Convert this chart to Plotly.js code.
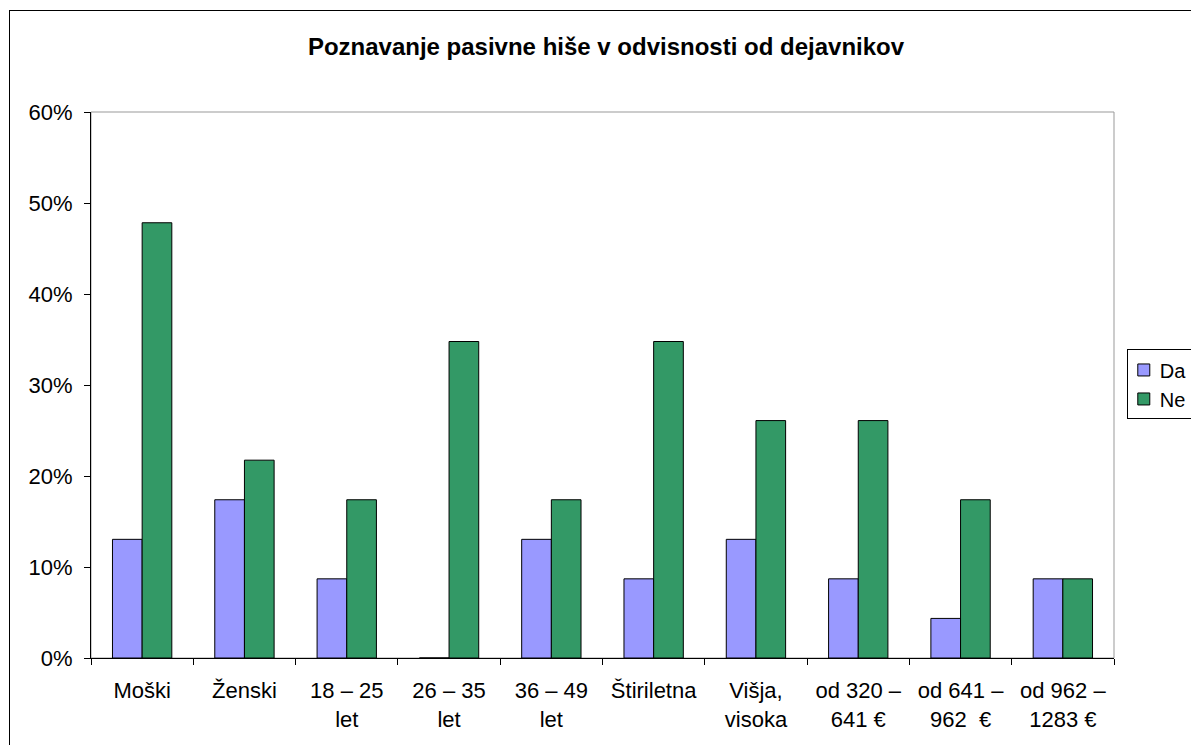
<!DOCTYPE html>
<html>
<head>
<meta charset="utf-8">
<script src="https://cdn.plot.ly/plotly-3.0.1.min.js"></script>
<style>
html,body{margin:0;padding:0;overflow:hidden;background:#fff;}
#chart{width:1191px;height:745px;position:absolute;left:0;top:0;}
#frame{position:absolute;left:9px;top:10px;width:1300px;height:900px;border:1px solid #000;pointer-events:none;}
</style>
</head>
<body>
<div id="chart"></div>
<div id="frame"></div>
<script>
const categories = ["Moški", "Ženski", "18 – 25<br>let", "26 – 35<br>let", "36 – 49<br>let", "Štiriletna", "Višja,<br>visoka", "od 320 –<br>641 €", "od 641 –<br>962  €", "od 962 –<br>1283 €"];
const daValues = [0.1304, 0.1739, 0.0870, 0.0, 0.1304, 0.0870, 0.1304, 0.0870, 0.0435, 0.0870];
const neValues = [0.4783, 0.2174, 0.1739, 0.3478, 0.1739, 0.3478, 0.2609, 0.2609, 0.1739, 0.0870];
const seriesNames = ["Da", "Ne"];
const titleText = "Poznavanje pasivne hiše v odvisnosti od dejavnikov";

const font = "Liberation Sans, Arial, sans-serif";
const traces = [
  {type:"bar", name:seriesNames[0], x:categories, y:daValues,
   marker:{color:"#9999FF", line:{color:"#000", width:1}}},
  {type:"bar", name:seriesNames[1], x:categories, y:neValues,
   marker:{color:"#339966", line:{color:"#000", width:1}}}
];
const layout = {
  width:1191, height:745,
  margin:{l:91, r:77, t:112, b:87, autoexpand:false},
  paper_bgcolor:"#fff", plot_bgcolor:"#fff",
  font:{family:font, color:"#000", size:21},
  title:{text:"<b>"+titleText+"</b>", font:{family:font, size:24, color:"#000"},
         x:0.5034, xref:"paper", xanchor:"center", y:0.937, yref:"container", yanchor:"middle"},
  barmode:"group", bargap:0.42, bargroupgap:0,
  showlegend:true,
  legend:{x:1.0125, xanchor:"left", y:0.501, yanchor:"middle", bordercolor:"#000", borderwidth:1,
          font:{family:font, size:20, color:"#000"}, bgcolor:"#fff", itemwidth:30, tracegroupgap:0},
  xaxis:{type:"category", showline:true, linecolor:"#000", linewidth:1, ticks:"outside", ticklen:6,
         tickcolor:"#000", tickson:"boundaries", showgrid:false, zeroline:false,
         tickfont:{family:font, size:22, color:"#000"}, ticklabelstandoff:13, fixedrange:true},
  yaxis:{range:[0,0.6], dtick:0.1, tickformat:".0%", showline:true, linecolor:"#000", linewidth:1,
         ticks:"outside", ticklen:6, tickcolor:"#000", showgrid:false, zeroline:false,
         tickfont:{family:font, size:22, color:"#000"}, ticklabelstandoff:7, fixedrange:true},
  shapes:[{type:"rect", xref:"paper", yref:"paper", x0:0, x1:1, y0:0, y1:1,
           line:{color:"#999", width:1}, layer:"below"}]
};
Plotly.newPlot("chart", traces, layout, {displayModeBar:false, staticPlot:true}).then(function(gd){
  gd.querySelectorAll(".legend .legendtext").forEach(function(t){
    const x = parseFloat(t.getAttribute("x") || "0");
    t.setAttribute("x", x - 8);
  });
  gd.querySelectorAll(".legend .legendpoints").forEach(function(p){
    p.setAttribute("transform", "translate(-4,0)");
  });
});
</script>
</body>
</html>
